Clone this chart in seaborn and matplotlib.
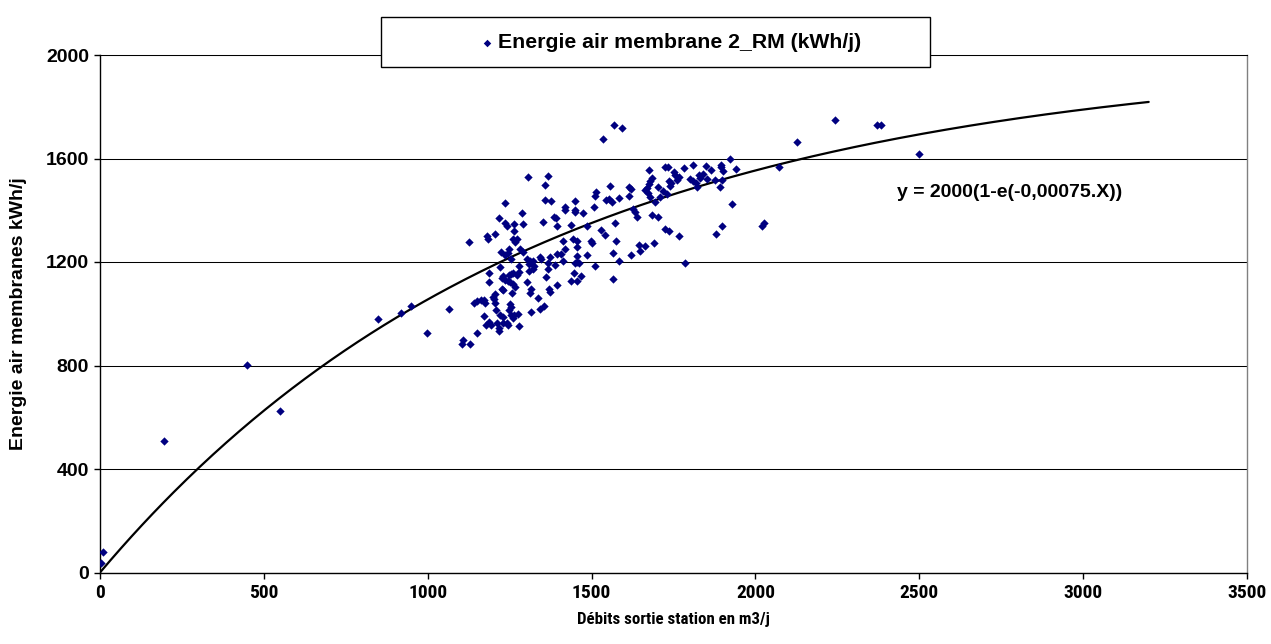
import numpy as np
import pandas as pd
import matplotlib
matplotlib.use("Agg")
import matplotlib.pyplot as plt
from matplotlib.patches import Rectangle
from matplotlib import font_manager
from matplotlib.font_manager import FontProperties
import seaborn as sns

# ---- data ----
flow = [
    1510, 1513, 1359, 1375, 1237, 1448, 1420, 1420, 1448, 1450,
    1475, 1507, 1287, 1216, 1385, 1390, 1351, 1235, 1243, 1263,
    1291, 1393, 1438, 1485, 1263, 1180, 1184, 1206, 1259, 1271,
    1267, 1125, 1414, 1444, 1457, 1497, 1501, 1455, 1418, 1282,
    1249, 1245, 1223, 1237, 1292, 1343, 1373, 1393, 1408, 1347,
    1412, 1455, 1461, 1485, 1255, 1304, 1312, 1322, 1310, 1324,
    1509, 1221, 1448, 1457, 1367, 1367, 1280, 1278, 1188, 1261,
    1247, 1255, 1271, 1320, 1310, 1387, 1229, 1227, 1361, 1446,
    1438, 1457, 1469, 1186, 1237, 1245, 1251, 1259, 1267, 1304,
    1227, 1231, 1393, 1371, 1373, 1314, 1312, 1257, 1206, 1200,
    1202, 1337, 1141, 1151, 1164, 1172, 1174, 1206, 1251, 1255,
    1249, 1355, 1343, 1066, 1314, 1208, 1221, 1231, 1253, 1263,
    1276, 1259, 1172, 1186, 1178, 1194, 1210, 1229, 1241, 1245,
    1216, 1219, 1278, 1149, 1107, 1105, 1129,
    1568, 1592, 1534, 1922, 1676, 1725, 1733, 1750, 1756, 1782,
    1811, 1849, 1894, 1896, 1902, 1941, 1863, 1841, 1827, 1800,
    1811, 1684, 1678, 1676, 1703, 1735, 1743, 1739, 1762, 1768,
    1853, 1876, 1819, 1823, 1898, 1892, 1831, 1668, 1662, 1672,
    1678, 1615, 1619, 1613, 1556, 1544, 1554, 1562, 1583, 1695,
    1719, 1729, 1709, 1627, 1634, 1638, 1684, 1703, 1927, 1573,
    1528, 1540, 1725, 1735, 1766, 1898, 1880, 1575, 1646, 1664,
    1692,
    1648, 1566, 1621, 1583, 1784, 1566, 1305, 1368, 1358, 2020,
    2025, 2071, 2128, 2244, 2370, 2382, 2499, 3, 8, 195,
    449, 549, 848, 918, 949, 998,
]
energy = [
    1455, 1472, 1440, 1434, 1427, 1434, 1414, 1401, 1401, 1393,
    1391, 1414, 1388, 1370, 1375, 1370, 1355, 1349, 1339, 1347,
    1347, 1339, 1344, 1339, 1319, 1302, 1290, 1308, 1290, 1288,
    1277, 1277, 1282, 1288, 1280, 1282, 1272, 1257, 1249, 1252,
    1249, 1236, 1239, 1226, 1239, 1221, 1221, 1231, 1231, 1210,
    1203, 1223, 1197, 1228, 1210, 1210, 1205, 1205, 1192, 1184,
    1184, 1179, 1195, 1200, 1195, 1174, 1184, 1161, 1159, 1159,
    1148, 1154, 1151, 1174, 1164, 1190, 1146, 1138, 1141, 1156,
    1128, 1125, 1146, 1123, 1130, 1128, 1123, 1115, 1105, 1123,
    1097, 1092, 1110, 1094, 1084, 1094, 1079, 1079, 1076, 1063,
    1056, 1061, 1043, 1050, 1053, 1053, 1040, 1040, 1038, 1027,
    1014, 1030, 1017, 1017, 1007, 1014, 994, 989, 994, 996,
    999, 984, 991, 968, 958, 955, 963, 966, 963, 958,
    945, 932, 953, 927, 898, 883, 883,
    1728, 1717, 1677, 1599, 1554, 1568, 1566, 1548, 1535, 1563,
    1574, 1571, 1576, 1566, 1553, 1558, 1556, 1540, 1535, 1522,
    1514, 1525, 1512, 1501, 1489, 1512, 1504, 1494, 1517, 1527,
    1519, 1517, 1507, 1488, 1517, 1491, 1525, 1486, 1478, 1468,
    1450, 1491, 1481, 1455, 1494, 1440, 1442, 1432, 1447, 1432,
    1473, 1463, 1452, 1403, 1393, 1375, 1380, 1373, 1424, 1352,
    1324, 1306, 1326, 1318, 1300, 1339, 1308, 1282, 1267, 1262,
    1272,
    1244, 1233, 1226, 1205, 1197, 1133, 1527, 1534, 1496, 1340,
    1350, 1567, 1662, 1750, 1728, 1728, 1617, 35, 80, 508,
    802, 624, 980, 1003, 1030, 925,
]

# fitted model shown on the chart: y = 2000(1 - e^(-0.00075 x))
model_a = 2000
model_k = 0.00075
model_xmax = 3200

series_label = "Energie air membrane 2_RM (kWh/j)"
equation_label = "y = 2000(1-e(-0,00075.X))"
x_label = "Débits sortie station en m3/j"
y_label = "Energie air membranes kWh/j"
x_ticks = [0, 500, 1000, 1500, 2000, 2500, 3000, 3500]
y_ticks = [0, 400, 800, 1200, 1600, 2000]

assert len(flow) == len(energy)
df = pd.DataFrame({"flow": flow, "energy": energy})
curve_x = np.linspace(0, model_xmax, 400)
curve = pd.DataFrame({"x": curve_x, "y": model_a * (1 - np.exp(-model_k * curve_x))})

# ---- style ----
sns.set_style("white")
plt.rcParams["font.family"] = ["Liberation Sans", "DejaVu Sans"]
plt.rcParams["font.weight"] = "bold"
for k in ["text.color", "axes.labelcolor", "xtick.color", "ytick.color"]:
    plt.rcParams[k] = "black"


def find_condensed_bold():
    prefs = ["Liberation Sans Narrow", "Arimo", "Roboto", "Open Sans", "Noto Sans",
             "Inter", "Lato", "DejaVu Sans"]
    cands = []
    for f in font_manager.fontManager.ttflist:
        name = f.name
        fn = f.fname.lower()
        st = f.stretch
        cond = ("narrow" in name.lower() or "condensed" in name.lower()
                or "narrow" in fn or "condensed" in fn
                or (isinstance(st, str) and "condensed" in st)
                or (isinstance(st, (int, float)) and st < 500))
        if not cond:
            continue
        w = f.weight if isinstance(f.weight, (int, float)) else (700 if "bold" in str(f.weight) else 400)
        if w < 600 or f.style != "normal":
            continue
        if "extra" in fn or "ultra" in fn or "semi" in fn:
            continue
        rank = next((i for i, p in enumerate(prefs) if name.startswith(p)), len(prefs))
        cands.append((rank, f.fname))
    cands.sort()
    return cands[0][1] if cands else None


cond_file = find_condensed_bold()
FS = 14
if cond_file:
    xtick_font = FontProperties(fname=cond_file, size=14)
    xlab_font = FontProperties(fname=cond_file, size=12.2)
else:
    xtick_font = FontProperties(family=["Liberation Sans"], weight="bold", size=12.5)
    xlab_font = FontProperties(family=["Liberation Sans"], weight="bold", size=10)

W, H = 1271, 644
fig = plt.figure(figsize=(W / 100, H / 100), dpi=100)
L, R, T, B = 100, 1247, 55, 572.5
ax = fig.add_axes([L / W, 1 - B / H, (R - L) / W, (B - T) / H])

ax.set_xlim(0, 3500)
ax.set_ylim(0, 2000)
ax.set_yticks(y_ticks)
ax.set_xticks(x_ticks)
ax.yaxis.grid(True, color="black", lw=0.75)
ax.set_axisbelow(True)

sns.lineplot(data=curve, x="x", y="y", color="black", lw=1.6, ax=ax,
             sort=False, estimator=None, zorder=2)
sns.scatterplot(data=df, x="flow", y="energy", marker="D", s=18,
                color="#000080", linewidth=0, ax=ax, label=series_label, zorder=3)
if ax.get_legend() is not None:
    ax.get_legend().remove()

for side in ["left", "bottom"]:
    ax.spines[side].set_color("black")
    ax.spines[side].set_linewidth(1.0)
ax.spines["right"].set_color("#808080")
ax.spines["right"].set_linewidth(1.0)
ax.spines["top"].set_color("black")
ax.spines["top"].set_linewidth(0.75)

ax.tick_params(axis="both", which="major", direction="out", length=4,
               width=1, color="black", labelsize=FS, pad=4,
               bottom=True, left=True)
for lab in ax.get_yticklabels():
    lab.set_fontweight("bold")
for lab in ax.get_xticklabels():
    lab.set_fontproperties(xtick_font)

ax.set_xlabel(x_label, fontproperties=xlab_font)
ax.set_ylabel(y_label, fontsize=FS, fontweight="bold")
ax.xaxis.set_label_coords(0.5, (B - 612) / (B - T))
ax.yaxis.set_label_coords((27 - L) / (R - L), 0.5)

ax.text(2432, 1470, equation_label, ha="left", va="center",
        fontsize=FS, fontweight="bold")

# legend box
rect = Rectangle((381 / W, 1 - 67 / H), 549 / W, 50 / H, transform=fig.transFigure,
                 facecolor="white", edgecolor="black", lw=1, zorder=3)
fig.add_artist(rect)
handles, labels = ax.get_legend_handles_labels()
leg = fig.legend(handles, labels, loc="center", bbox_to_anchor=(671 / W, 1 - 43 / H),
                 bbox_transform=fig.transFigure, frameon=False, fontsize=15.3,
                 handletextpad=0.2, handlelength=0.6, markerscale=0.9)
leg.set_zorder(4)
for t in leg.get_texts():
    t.set_fontweight("bold")

fig.savefig("out.png", dpi=100)
